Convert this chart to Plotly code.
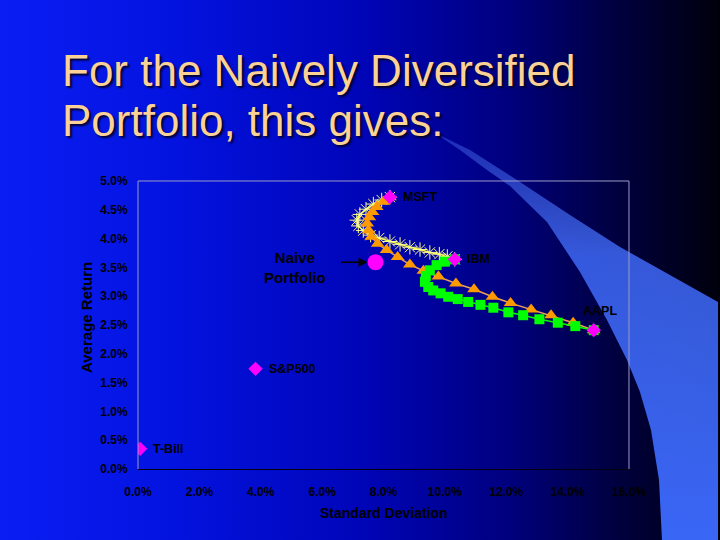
import plotly.graph_objects as go

# ---------------- data (percent) ----------------
assets = ["MSFT", "IBM", "AAPL", "S&P500", "T-Bill"]
asset_sd = [8.21, 10.32, 14.85, 3.83, 0.07]
asset_ret = [4.72, 3.64, 2.41, 1.74, 0.35]

naive_sd = [7.74]
naive_ret = [3.59]

# MSFT-AAPL combinations (orange triangles)
ma_sd = [8.21, 7.99, 7.78, 7.64, 7.54, 7.47, 7.52, 7.60, 7.81, 8.10, 8.46, 8.86,
         9.30, 9.79, 10.36, 10.95, 11.55, 12.14, 12.81, 13.46, 14.18, 14.85]
ma_ret = [4.72, 4.64, 4.55, 4.46, 4.37, 4.26, 4.14, 4.03, 3.91, 3.80, 3.68, 3.55,
          3.44, 3.34, 3.22, 3.12, 2.99, 2.88, 2.77, 2.67, 2.54, 2.41]

# MSFT-IBM combinations (yellow asterisks)
mi_sd = [8.21, 7.94, 7.67, 7.43, 7.23, 7.13, 7.18, 7.34, 7.58, 7.86, 8.21, 8.54,
         8.86, 9.19, 9.51, 9.82, 10.08, 10.32]
mi_ret = [4.72, 4.67, 4.60, 4.51, 4.42, 4.32, 4.22, 4.14, 4.06, 4.01, 3.95, 3.90,
          3.85, 3.81, 3.76, 3.73, 3.69, 3.64]

# IBM-AAPL combinations (green squares)
ia_sd = [10.32, 10.00, 9.73, 9.51, 9.38, 9.35, 9.46, 9.62, 9.86, 10.11, 10.42,
         10.76, 11.16, 11.58, 12.07, 12.55, 13.08, 13.68, 14.25, 14.85]
ia_ret = [3.64, 3.60, 3.54, 3.45, 3.35, 3.25, 3.16, 3.10, 3.05, 2.99, 2.95,
          2.90, 2.85, 2.80, 2.72, 2.67, 2.60, 2.54, 2.48, 2.41]

x_ticks = [0, 2, 4, 6, 8, 10, 12, 14, 16]
x_labels = ["%.1f%%" % v for v in x_ticks]
y_ticks = [0, 0.5, 1, 1.5, 2, 2.5, 3, 3.5, 4, 4.5, 5]
y_labels = ["%.1f%%" % v for v in y_ticks]

title_lines = ["For the Naively Diversified", "Portfolio, this gives:"]

W, H = 720, 540
FONT = "Arial, Liberation Sans, sans-serif"

fig = go.Figure()

# ---------------- slide background (subplot xy, full page) ----------------
fig.add_trace(go.Scatter(
    x=[0, W, W, 0, 0], y=[0, 0, H, H, 0], mode="lines", fill="toself",
    line=dict(width=0), hoverinfo="skip", showlegend=False,
    fillgradient=dict(type="horizontal", start=0, stop=W,
                      colorscale=[[0, "#0a1ef4"], [0.25, "#0312de"],
                                  [0.5, "#0005b8"], [0.7, "#000080"],
                                  [0.85, "#000042"], [1, "#00000c"]]),
    xaxis="x", yaxis="y"))

sw_x = [435, 470, 520, 570, 620, 670, 718, 718, 662, 659, 651, 640, 627, 607,
        580, 547, 510, 487, 460, 435]
sw_y = [133, 150, 182, 215, 247, 275, 302, 540, 540, 480, 430, 392, 360, 320,
        272, 222, 186, 170, 150, 133]
fig.add_trace(go.Scatter(
    x=sw_x, y=sw_y, mode="lines", fill="toself", line=dict(width=0),
    hoverinfo="skip", showlegend=False,
    fillgradient=dict(type="vertical", start=133, stop=540,
                      colorscale=[[0, "rgba(80,120,245,0.35)"],
                                  [0.3, "rgba(62,104,245,0.85)"],
                                  [1, "rgb(58,102,246)"]]),
    xaxis="x", yaxis="y"))

# ---------------- chart (subplot x2y2) ----------------
fig.add_trace(go.Scatter(
    x=mi_sd, y=mi_ret, mode="lines+markers", xaxis="x2", yaxis="y2",
    line=dict(color="#ffff40", width=1.5),
    marker=dict(symbol="asterisk-open", size=12, color="#ffff90",
                line=dict(color="#ffff90", width=1)),
    hoverinfo="skip", showlegend=False))

fig.add_trace(go.Scatter(
    x=ma_sd, y=ma_ret, mode="lines+markers", xaxis="x2", yaxis="y2",
    line=dict(color="#e8a060", width=1.5),
    marker=dict(symbol="triangle-up", size=12, color="#ff9900"),
    hoverinfo="skip", showlegend=False))

fig.add_trace(go.Scatter(
    x=ia_sd, y=ia_ret, mode="lines+markers", xaxis="x2", yaxis="y2",
    line=dict(color="#00ff00", width=1.5),
    marker=dict(symbol="square", size=10, color="#00ff00"),
    hoverinfo="skip", showlegend=False))

fig.add_trace(go.Scatter(
    x=asset_sd, y=asset_ret, mode="markers", xaxis="x2", yaxis="y2",
    marker=dict(symbol="diamond", size=11, color="#ff00ff"),
    hoverinfo="skip", showlegend=False))

fig.add_trace(go.Scatter(
    x=naive_sd, y=naive_ret, mode="markers", xaxis="x2", yaxis="y2",
    marker=dict(symbol="circle", size=16, color="#ff00ff"),
    hoverinfo="skip", showlegend=False))

# plot domain in pixels
L, R, T, B = 138, 629, 181, 469
dom_x = [L / W, R / W]
dom_y = [(H - B) / H, (H - T) / H]

tickfont = dict(family=FONT, size=12, color="#000000", weight="bold")

annotations = []
# title
for i, line in enumerate(title_lines):
    annotations.append(dict(
        text=line, xref="paper", yref="paper", x=60 / W, y=1 - (70 + 50 * i) / H,
        xanchor="left", yanchor="middle", showarrow=False,
        font=dict(family=FONT, size=44, color="#fbd196",
                  shadow="2px 2px 2px rgba(0,0,30,0.9)")))

# asset labels
offsets = {"MSFT": (11, 0, "left"), "IBM": (10, 0, "left"),
           "AAPL": (6, 19, "center"), "S&P500": (11, 0, "left"),
           "T-Bill": (11, 0, "left")}
for name, sx, ry in zip(assets, asset_sd, asset_ret):
    dx, dy, anc = offsets[name]
    annotations.append(dict(
        text=name, x=sx, y=ry, xref="x2", yref="y2", xshift=dx, yshift=dy,
        xanchor=anc, yanchor="middle", showarrow=False,
        font=dict(family=FONT, size=12.5, color="#000000", weight="bold")))

# naive portfolio label + arrow
annotations.append(dict(
    text="Naive<br>Portfolio", xref="paper", yref="paper", x=295 / W, y=1 - 267 / H,
    xanchor="center", yanchor="middle", showarrow=False, align="center",
    font=dict(family=FONT, size=15, color="#000000", weight="bold")))
annotations.append(dict(
    text="", x=naive_sd[0], y=naive_ret[0], xref="x2", yref="y2",
    showarrow=True, ax=-36, ay=0, standoff=8, arrowhead=2, arrowsize=1.2,
    arrowwidth=1.5, arrowcolor="#000000"))

# axis titles
annotations.append(dict(
    text="Average Return", xref="paper", yref="paper", x=86 / W, y=1 - 318 / H,
    textangle=-90, xanchor="center", yanchor="middle", showarrow=False,
    font=dict(family=FONT, size=15, color="#000000", weight="bold")))
annotations.append(dict(
    text="Standard Deviation", xref="paper", yref="paper", x=384 / W, y=1 - 513 / H,
    xanchor="center", yanchor="middle", showarrow=False,
    font=dict(family=FONT, size=14, color="#000000", weight="bold")))

shapes = [
    # gray plot-area border (left, top, right)
    dict(type="path", xref="paper", yref="paper", layer="above",
         path="M %f %f L %f %f L %f %f L %f %f" % (
             dom_x[0], dom_y[0], dom_x[0], dom_y[1], dom_x[1], dom_y[1],
             dom_x[1], dom_y[0]),
         line=dict(color="#9a9ac8", width=1)),
]

fig.update_layout(
    width=W, height=H, autosize=False,
    margin=dict(l=0, r=0, t=0, b=0, pad=0, autoexpand=False),
    paper_bgcolor="#000040", plot_bgcolor="rgba(0,0,0,0)",
    xaxis=dict(domain=[0, 1], range=[0, W], visible=False, fixedrange=True,
               automargin=False),
    yaxis=dict(domain=[0, 1], range=[H, 0], visible=False, fixedrange=True,
               automargin=False),
    xaxis2=dict(domain=dom_x, anchor="y2", range=[0, 16], tickvals=x_ticks,
                ticktext=x_labels, showgrid=False, zeroline=False,
                showline=True, linecolor="#000010", linewidth=1,
                ticks="outside", ticklen=12, tickcolor="rgba(0,0,0,0)",
                tickfont=tickfont, fixedrange=True, automargin=False),
    yaxis2=dict(domain=dom_y, anchor="x2", range=[0, 5], tickvals=y_ticks,
                ticktext=y_labels, showgrid=False, zeroline=False,
                showline=False, ticks="outside", ticklen=7,
                tickcolor="rgba(0,0,0,0)", tickfont=tickfont, fixedrange=True,
                automargin=False),
    annotations=annotations, shapes=shapes, showlegend=False,
)

fig.write_html(
    "out.html",
    config={"responsive": False, "displayModeBar": False},
    post_script="document.body.style.margin='0';document.body.style.padding='0';"
                "document.body.style.overflow='hidden';"
                "document.documentElement.style.overflow='hidden';",
)
